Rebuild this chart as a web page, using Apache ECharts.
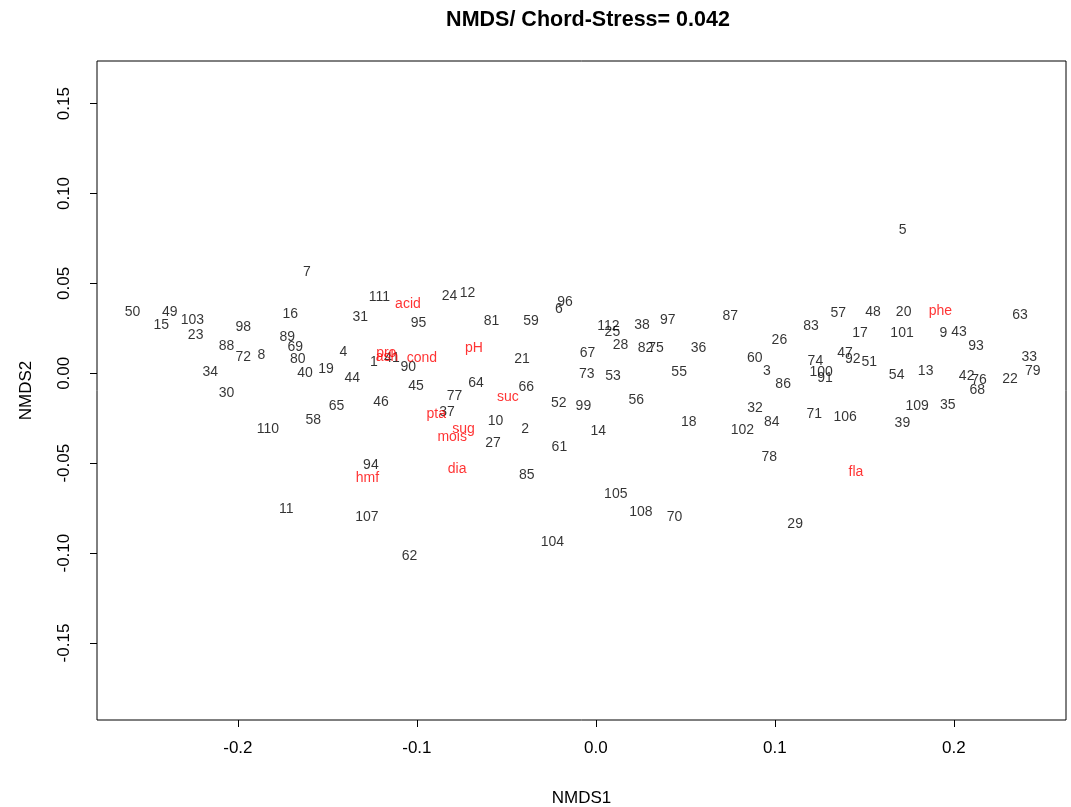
<!DOCTYPE html>
<html>
<head>
<meta charset="utf-8">
<title>NMDS</title>
<script src="https://cdn.jsdelivr.net/npm/echarts@6/dist/echarts.min.js"></script>
<style>
    html, body { margin: 0; padding: 0; background: #fff; }
    #chart { width: 1071px; height: 807px; }
</style>
</head>
<body>
<div id="chart"></div>
<script>
// site scores (labels 1..112)
var siteNames = [];
for (var i = 1; i <= 112; i++) siteNames.push(String(i));
var siteX = [
    -0.1240, -0.0395, 0.0955, -0.1410, 0.1714, -0.0207, -0.1614, -0.1868, 0.1941, -0.0561,
    -0.1730, -0.0717, 0.1842, 0.0013, -0.2428, -0.1707, 0.1475, 0.0519, -0.1508, 0.1719,
    -0.0413, 0.2313, -0.2236, -0.0818, 0.0092, 0.1025, -0.0575, 0.0137, 0.1113, -0.2064,
    -0.1316, 0.0889, 0.2421, -0.2154, 0.1965, 0.0573, -0.0832, 0.0258, 0.1712, -0.1625,
    -0.1139, 0.2071, 0.2028, -0.1361, -0.1005, -0.1201, 0.1392, 0.1548, -0.2381, -0.2589,
    0.1527, -0.0207, 0.0095, 0.1680, 0.0465, 0.0226, 0.1354, -0.1579, -0.0362, 0.0888,
    -0.0204, -0.1041, 0.2369, -0.0670, -0.1449, -0.0389, -0.0047, 0.2130, -0.1679, 0.0439,
    0.1220, -0.1970, -0.0051, 0.1226, 0.0336, 0.2140, -0.0790, 0.0969, 0.2440, -0.1666,
    -0.0583, 0.0277, 0.1202, 0.0982, -0.0386, 0.1046, 0.0750, -0.2064, -0.1724, -0.1048,
    0.1280, 0.1435, 0.2123, -0.1257, -0.0991, -0.0172, 0.0402, -0.1970, -0.0070, 0.1258,
    0.1710, 0.0818, -0.2254, -0.0243, 0.0111, 0.1392, -0.1279, 0.0251, 0.1794, -0.1832,
    -0.1209, 0.0070
];
var siteY = [
    0.0061, -0.0308, 0.0014, 0.0118, 0.0797, 0.0356, 0.0560, 0.0100, 0.0226, -0.0265,
    -0.0755, 0.0447, 0.0014, -0.0323, 0.0269, 0.0328, 0.0222, -0.0273, 0.0022, 0.0341,
    0.0080, -0.0033, 0.0213, 0.0430, 0.0228, 0.0185, -0.0386, 0.0154, -0.0838, -0.0108,
    0.0313, -0.0195, 0.0092, 0.0006, -0.0176, 0.0139, -0.0214, 0.0267, -0.0275, 0.0000,
    0.0083, -0.0015, 0.0228, -0.0024, -0.0069, -0.0158, 0.0111, 0.0343, 0.0341, 0.0339,
    0.0065, -0.0164, -0.0017, -0.0009, 0.0007, -0.0148, 0.0334, -0.0258, 0.0291, 0.0083,
    -0.0408, -0.1018, 0.0324, -0.0052, -0.0180, -0.0075, 0.0111, -0.0093, 0.0145, -0.0798,
    -0.0225, 0.0089, -0.0006, 0.0068, 0.0142, -0.0037, -0.0125, -0.0464, 0.0014, 0.0081,
    0.0291, 0.0139, 0.0265, -0.0269, -0.0564, -0.0061, 0.0319, 0.0150, 0.0202, 0.0033,
    -0.0024, 0.0080, 0.0152, -0.0512, 0.0278, 0.0398, 0.0296, 0.0258, -0.0182, 0.0006,
    0.0222, -0.0314, 0.0295, -0.0937, -0.0671, -0.0243, -0.0798, -0.0773, -0.0182, -0.0308,
    0.0423, 0.0263
];
// variable scores (red)
var envNames = ['acid', 'pro', 'ash', 'cond', 'pH', 'suc', 'pta', 'sug', 'mois', 'dia', 'hmf', 'fla', 'phe'];
var envX = [-0.1050, -0.1171, -0.1167, -0.0972, -0.0681, -0.0492, -0.0892, -0.0740, -0.0803, -0.0775, -0.1276, 0.1453, 0.1924];
var envY = [0.0387, 0.0115, 0.0092, 0.0087, 0.0139, -0.0130, -0.0226, -0.0310, -0.0356, -0.0532, -0.0582, -0.0549, 0.0348];
// ticks
var xTicks = [-0.2, -0.1, 0, 0.1, 0.2];
var yTicks = [-0.15, -0.10, -0.05, 0, 0.05, 0.10, 0.15];

function toData(xs, ys, names) {
    var out = [];
    for (var i = 0; i < xs.length; i++) out.push([xs[i], ys[i], names[i]]);
    return out;
}

var font = 'Liberation Sans, Arial, sans-serif';
var chart = echarts.init(document.getElementById('chart'), null, {renderer: 'canvas'});

// text-only scatter (like R's text())
function labelSeries(data, color, size) {
    return {
        type: 'scatter',
        data: data,
        symbolSize: 0,
        itemStyle: {color: 'rgba(0,0,0,0)'},
        silent: true,
        label: {
            show: true,
            position: 'inside',
            formatter: function (p) { return p.data[2]; },
            color: color,
            fontFamily: font,
            fontSize: size
        },
        labelLayout: {hideOverlap: false}
    };
}

var option = {
    backgroundColor: '#fff',
    animation: false,
    title: {
        text: 'NMDS/ Chord-Stress= 0.042',
        left: 583,
        top: 4,
        textAlign: 'center',
        textStyle: {fontFamily: font, fontSize: 21.5, fontWeight: 'bold', color: '#000'}
    },
    grid: {
        left: 97, right: 5, top: 61, bottom: 87,
        outerBoundsMode: 'none',
        containLabel: false,
        show: true, borderColor: '#000', borderWidth: 1, backgroundColor: '#fff'
    },
    xAxis: {
        type: 'value',
        min: -0.2787,
        max: 0.2626,
        name: 'NMDS1',
        nameLocation: 'middle',
        nameGap: 70,
        nameTextStyle: {fontFamily: font, fontSize: 17, color: '#000'},
        axisLine: {show: false, onZero: false},
        splitLine: {show: false},
        axisTick: {show: true, length: 7, customValues: xTicks, lineStyle: {color: '#000'}},
        axisLabel: {
            customValues: xTicks,
            margin: 20,
            fontFamily: font, fontSize: 17, color: '#000',
            formatter: function (v) { return v.toFixed(1); }
        }
    },
    yAxis: {
        type: 'value',
        min: -0.1928,
        max: 0.1737,
        name: 'NMDS2',
        nameLocation: 'middle',
        nameGap: 62,
        nameRotate: 90,
        nameTextStyle: {fontFamily: font, fontSize: 17, color: '#000'},
        axisLine: {show: false, onZero: false},
        splitLine: {show: false},
        axisTick: {show: true, length: 7, customValues: yTicks, lineStyle: {color: '#000'}},
        axisLabel: {
            customValues: yTicks,
            rotate: 90,
            margin: 24,
            fontFamily: font, fontSize: 17, color: '#000',
            formatter: function (v) { return v.toFixed(2); }
        }
    },
    series: [
        labelSeries(toData(siteX, siteY, siteNames), '#000', 14),
        labelSeries(toData(envX, envY, envNames), '#ff0000', 14)
    ]
};
chart.setOption(option);
</script>
</body>
</html>
